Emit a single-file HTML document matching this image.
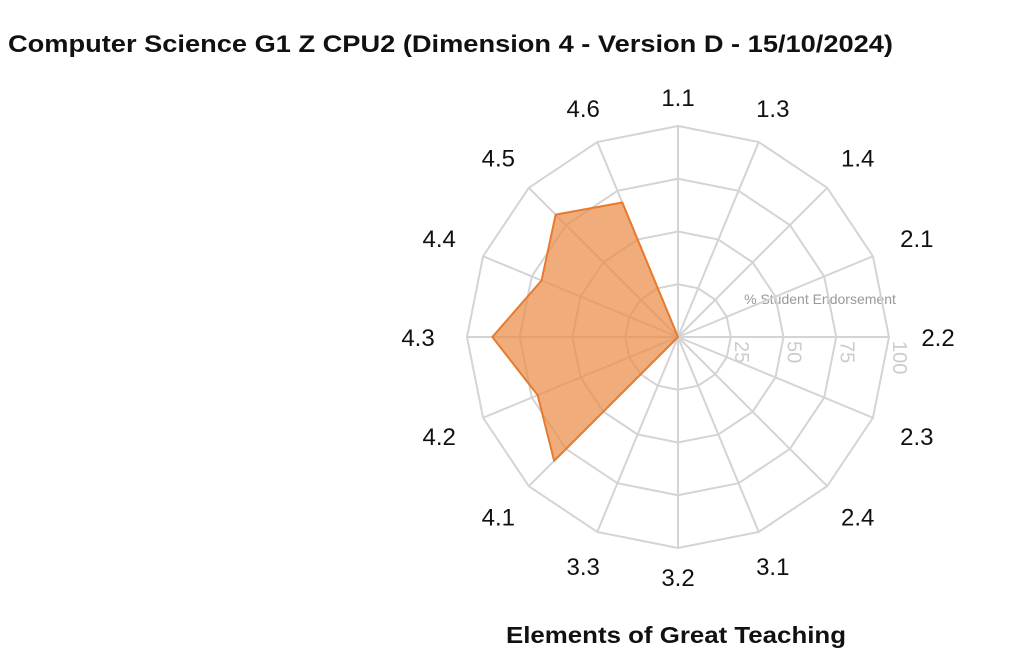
<!DOCTYPE html>
<html><head><meta charset="utf-8"><style>
body{margin:0;background:#fff;width:1024px;height:667px;overflow:hidden;font-family:"Liberation Sans",sans-serif}
</style></head><body>
<svg id="chart" width="1024" height="667">
<text x="8" y="52" font-size="24" font-weight="bold" fill="#111" textLength="885" lengthAdjust="spacingAndGlyphs">Computer Science G1 Z CPU2 (Dimension 4 - Version D - 15/10/2024)</text>
<text x="506" y="643" font-size="23" font-weight="bold" fill="#111" textLength="340" lengthAdjust="spacingAndGlyphs">Elements of Great Teaching</text>
<text x="820" y="304" font-size="14" text-anchor="middle" fill="#999">% Student Endorsement</text>
<g id="grid"></g><g id="marks"></g><g id="labels"></g>
</svg>
<script>
const categories=["1.1","1.3","1.4","2.1","2.2","2.3","2.4","3.1","3.2","3.3","4.1","4.2","4.3","4.4","4.5","4.6"];
const values=[0,0,0,0,0,0,0,0,0,0,83,72,88,70,82,69];
const ticks=[25,50,75,100];
const cx=678,cy=337,R=211,NS="http://www.w3.org/2000/svg";
const n=categories.length;
function ang(i){return i*2*Math.PI/n;}
function pt(i,v){const r=v/100*R,a=ang(i);return [cx+r*Math.sin(a),cy-r*Math.cos(a)];}
function mk(t,attrs,parent){const e=document.createElementNS(NS,t);for(const k in attrs)e.setAttribute(k,attrs[k]);parent.appendChild(e);return e;}
const grid=document.getElementById('grid'),marks=document.getElementById('marks'),labels=document.getElementById('labels');
ticks.forEach(t=>{
 const p=categories.map((c,i)=>pt(i,t).join(',')).join(' ');
 const g=mk('polygon',{points:p,fill:'none',stroke:'#d4d4d4','stroke-width':2},grid);
 
 
 const x=cx+t/100*R+4;
 const tl=mk('text',{x:x,y:cy+4,'font-size':20,fill:'#ccc',transform:`rotate(90 ${x} ${cy+4})`},grid);
 tl.textContent=t;
 
 
});
categories.forEach((c,i)=>{
 const [x,y]=pt(i,100);
 const l=mk('line',{x1:cx,y1:cy,x2:x,y2:y,stroke:'#d4d4d4','stroke-width':2},grid);
 
 
 const a=ang(i),rr=240+20*Math.abs(Math.sin(a));
 const t=mk('text',{x:cx+rr*Math.sin(a),y:cy-rr*Math.cos(a)+9,'font-size':24,'text-anchor':'middle',fill:'#111'},labels);
 t.textContent=c;
 
 
});
const poly=mk('polygon',{points:values.map((v,i)=>pt(i,v).join(',')).join(' '),fill:'rgba(234,140,72,0.72)',stroke:'#e87a2e','stroke-width':2,'stroke-linejoin':'round'},marks);


</script>
</body></html>
